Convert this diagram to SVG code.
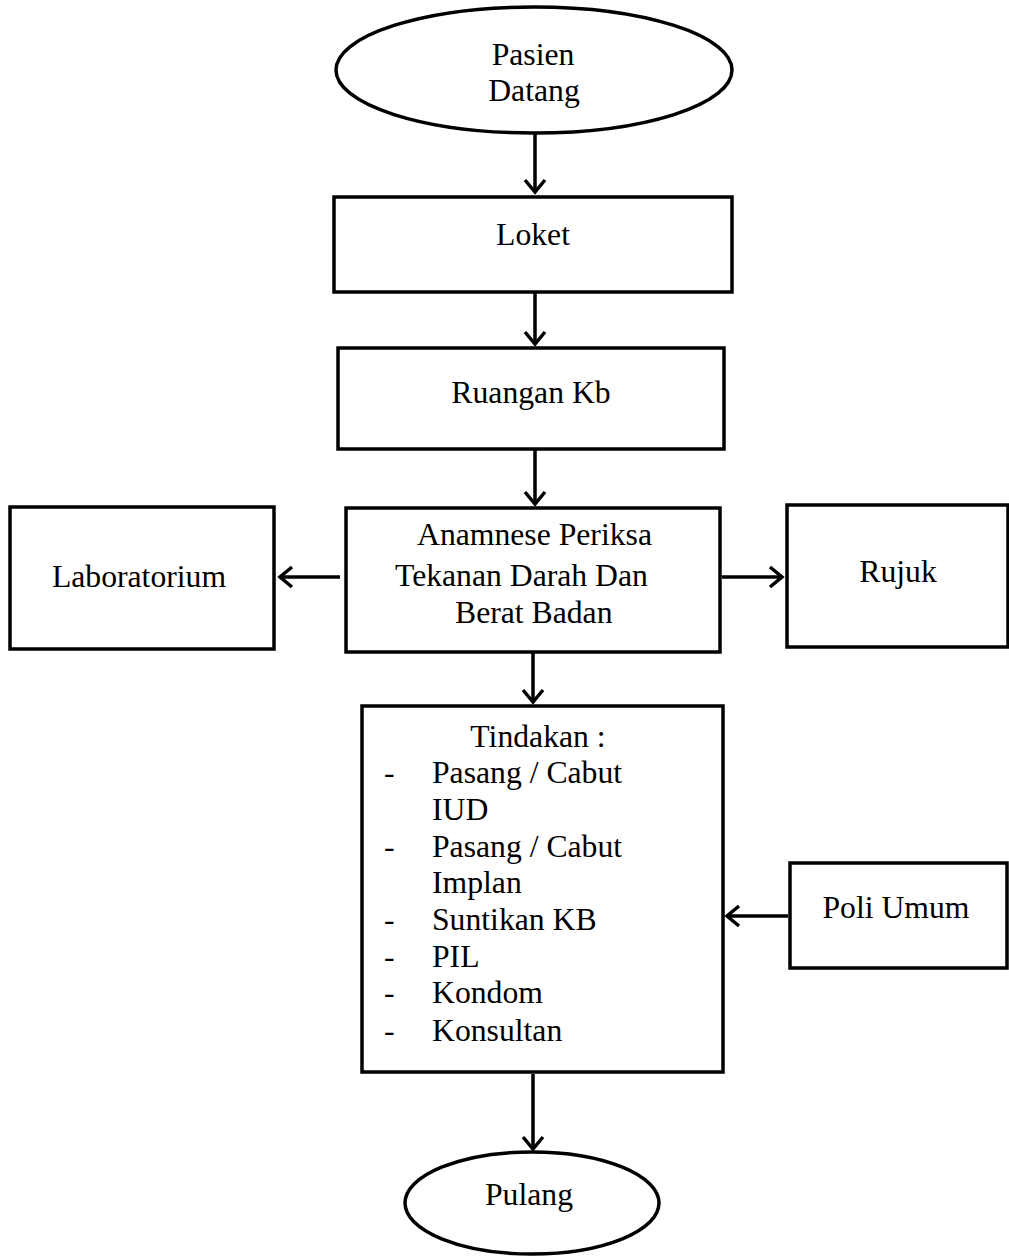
<svg xmlns="http://www.w3.org/2000/svg" width="1009" height="1259" viewBox="0 0 1009 1259">
<style>
.s{fill:#fff;stroke:#000;stroke-width:3.5}
.t{font-family:"Liberation Serif","Times New Roman",serif;font-size:31.7px;fill:#000}
.c{text-anchor:middle}
.e{stroke:#000;stroke-width:3.5;fill:none}
</style>
<defs>
<marker id="a" markerUnits="userSpaceOnUse" markerWidth="30" markerHeight="30" refX="15" refY="15" orient="auto" viewBox="0 0 30 30">
<path d="M3,5 L15,15 L3,25" fill="none" stroke="#000" stroke-width="3.5"/>
</marker>
</defs>
<rect width="1009" height="1259" fill="#fff"/>
<g id="pasien"><ellipse class="s" cx="534" cy="70" rx="198" ry="63"/><text class="t c" x="533" y="65">Pasien</text><text class="t c" x="534" y="101">Datang</text></g>
<g id="loket"><rect class="s" x="334" y="197" width="398" height="95"/><text class="t c" x="533" y="245">Loket</text></g>
<g id="ruangan"><rect class="s" x="338" y="348" width="386" height="101"/><text class="t c" x="531" y="403">Ruangan Kb</text></g>
<g id="anamnese"><rect class="s" x="346" y="508" width="374" height="144"/><text class="t" x="417" y="545">Anamnese Periksa</text><text class="t" x="395" y="586">Tekanan Darah Dan</text><text class="t" x="455" y="623">Berat Badan</text></g>
<g id="lab"><rect class="s" x="10" y="507" width="264" height="142"/><text class="t c" x="139" y="587">Laboratorium</text></g>
<g id="rujuk"><rect class="s" x="787" y="505" width="221" height="142"/><text class="t c" x="898" y="582">Rujuk</text></g>
<g id="tindakan"><rect class="s" x="362" y="706" width="361" height="366"/>
<text class="t c" x="538" y="747">Tindakan :</text>
<g class="t">
<text x="384" y="783">-</text><text x="432" y="783">Pasang / Cabut</text>
<text x="432" y="820">IUD</text>
<text x="384" y="857">-</text><text x="432" y="857">Pasang / Cabut</text>
<text x="432" y="893">Implan</text>
<text x="384" y="930">-</text><text x="432" y="930">Suntikan KB</text>
<text x="384" y="967">-</text><text x="432" y="967">PIL</text>
<text x="384" y="1003">-</text><text x="432" y="1003">Kondom</text>
<text x="384" y="1041">-</text><text x="432" y="1041">Konsultan</text>
</g></g>
<g id="poli"><rect class="s" x="790" y="863" width="217" height="105"/><text class="t c" x="896" y="918">Poli Umum</text></g>
<g id="pulang"><ellipse class="s" cx="532" cy="1203" rx="127" ry="51"/><text class="t c" x="529" y="1205">Pulang</text></g>
<g id="connectors">
<line class="e" x1="535" y1="133" x2="535" y2="192" marker-end="url(#a)"/>
<line class="e" x1="535" y1="292" x2="535" y2="344" marker-end="url(#a)"/>
<line class="e" x1="535" y1="449" x2="535" y2="504" marker-end="url(#a)"/>
<line class="e" x1="533" y1="652" x2="533" y2="702" marker-end="url(#a)"/>
<line class="e" x1="340" y1="577" x2="280" y2="577" marker-end="url(#a)"/>
<line class="e" x1="722" y1="577" x2="782" y2="577" marker-end="url(#a)"/>
<line class="e" x1="788" y1="916" x2="727" y2="916" marker-end="url(#a)"/>
<line class="e" x1="533" y1="1074" x2="533" y2="1149" marker-end="url(#a)"/>
</g>
</svg>
